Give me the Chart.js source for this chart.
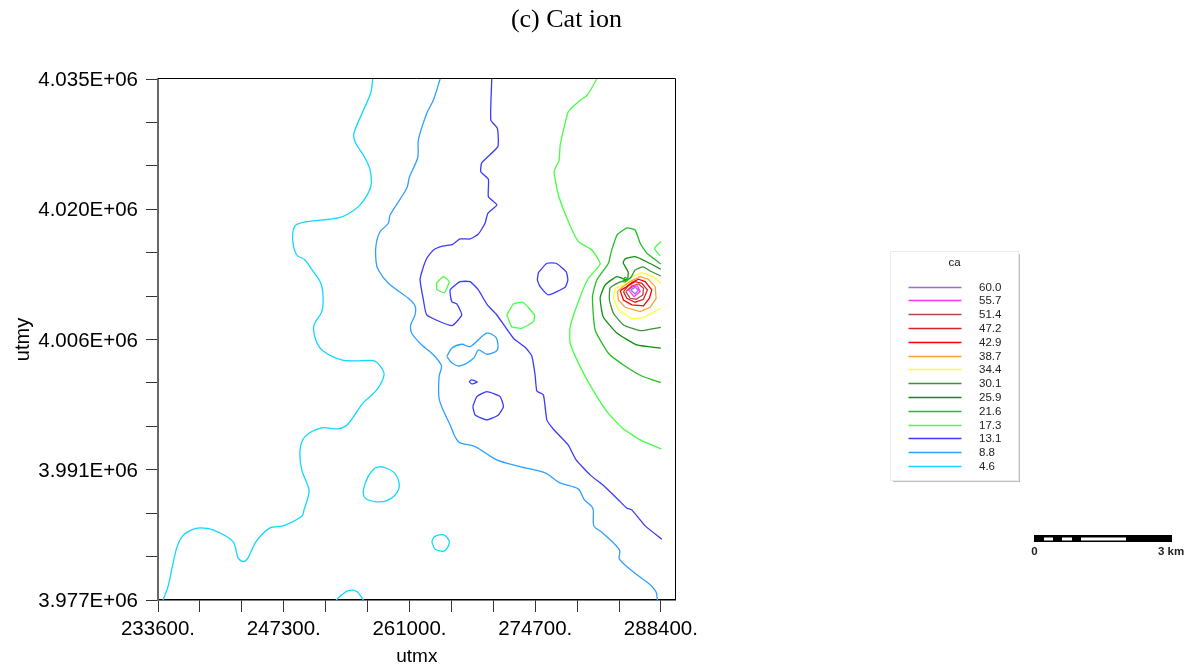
<!DOCTYPE html>
<html>
<head>
<meta charset="utf-8">
<title>Cat ion</title>
<script src="https://cdn.jsdelivr.net/npm/chart.js@4/dist/chart.umd.min.js"></script>
<style>
  html, body { margin: 0; background: #fff; }
  canvas { display: block; }
</style>
</head>
<body>
<canvas id="contourChart" width="1195" height="671"></canvas>
<script>
// axis ticks, every third one carries a label
const xTickValues = [233600, 238167, 242733, 247300, 251867, 256433, 261000, 265567, 270133, 274700, 279267, 283833, 288400]
const xTickLabels = { 233600: '233600.', 247300: '247300.', 261000: '261000.', 274700: '274700.', 288400: '288400.' }
const yTickValues = [3977000, 3981833, 3986667, 3991500, 3996333, 4001167, 4006000, 4010833, 4015667, 4020500, 4025333, 4030167, 4035000]
const yTickLabels = { 3977000: '3.977E+06', 3991500: '3.991E+06', 4006000: '4.006E+06', 4020500: '4.020E+06', 4035000: '4.035E+06' }

// contour levels, top to bottom as in the legend
const levels = ['60.0', '55.7', '51.4', '47.2', '42.9', '38.7', '34.4', '30.1', '25.9', '21.6', '17.3', '13.1', '8.8', '4.6']
const levelColors = ['#9a6fd0', '#ff33ff', '#b04a4a', '#e02020', '#ff0000', '#ffa030', '#ffff33', '#3f8f3f', '#0f8f0f', '#22c022', '#44ff44', '#3a3aff', '#2fa0ff', '#10d8ff']

// contour pieces as [utmx, utmy]
const c46Main = [[257000,4035000],[256780,4033440],[255910,4031360],[254960,4028990],[255070,4028020],[256160,4026210],[256710,4024870],[256780,4022980],[255620,4020980],[254310,4019970],[253220,4019530],[251590,4019310],[249620,4019080],[248530,4018640],[248280,4017080],[248720,4015410],[249620,4014860],[250390,4013740],[251330,4012300],[251590,4010740],[251440,4009070],[250600,4007620],[250790,4005950],[251590,4004730],[253620,4003720],[255070,4003610],[257040,4003650],[257800,4003060],[258230,4002060],[257440,4000390],[255950,3998940],[254310,3996600],[253220,3996050],[251440,3996160],[249620,3995190],[249080,3993710],[249260,3991480],[250060,3989180],[249510,3987030],[249300,3986360],[247230,3985250],[245810,3985030],[244280,3983500],[243410,3981690],[242870,3981270],[242320,3981690],[241780,3983500],[239600,3984800],[238180,3985030],[237270,3984800],[236290,3984140],[235640,3982800],[235090,3980350],[234690,3978490],[234150,3977000]]
const c46Loop = [[257980,3991850],[259220,3991290],[259870,3990030],[259620,3988920],[258530,3988060],[257250,3987950],[256160,3988370],[255980,3989260],[256490,3990740],[257250,3991700],[257980,3991850]]
const c46Small = [[263430,3983500],[263720,3984060],[264770,3984250],[265350,3983430],[264810,3982470],[263790,3982660],[263430,3983500]]
const c46Bottom = [[253000,3977000],[253620,3977570],[254340,3978050],[255260,3977940],[255980,3977000]]

const c88Main = [[264340,4035000],[263610,4032660],[262890,4031180],[261970,4028210],[261910,4026290],[260990,4024060],[260710,4022830],[258890,4019860],[258700,4018940],[257800,4018000],[257360,4016520],[257360,4014670],[257610,4013740],[258700,4012260],[260880,4010590],[261610,4009740],[261610,4008730],[261140,4007620],[261250,4006700],[262340,4005390],[263430,4004470],[264480,4003090],[264230,4001870],[264260,3999270],[265430,3996490],[266330,3994630],[268150,3994080],[270520,3992600],[273060,3991850],[275780,3991150],[277420,3990030],[279380,3989370],[280070,3988140],[280980,3987220],[281090,3985250],[281960,3984550],[283880,3982580],[283880,3981540],[285780,3979800],[287040,3978870],[287850,3977940],[288020,3977000]]
const c88Loop = [[265070,4004090],[265610,4005030],[266700,4005470],[267610,4005210],[269430,4006700],[270440,4006210],[270580,4004840],[269490,4004360],[268510,4004840],[268040,4003980],[266520,4003060],[265610,4003420],[265070,4004090]]

const c131Main = [[269970,4035000],[269860,4030440],[270580,4029510],[270630,4027470],[268880,4025680],[268770,4024680],[269600,4023840],[269600,4021900],[270520,4020980],[269540,4020050],[269240,4018940],[268510,4017750],[267610,4017190],[266520,4017190],[265720,4016600],[264700,4016410],[263610,4015970],[262890,4015040],[262410,4013740],[262160,4012630],[262520,4010400],[262890,4008730],[265610,4007540],[266700,4008730],[266160,4009960],[265610,4010210],[265430,4011520],[266520,4012440],[267610,4012440],[268510,4011520],[269490,4009850],[270520,4008730],[272330,4006140],[273600,4005140],[274330,4004170],[274690,4002060],[274880,4000270],[275600,3999830],[275970,3997050],[276690,3996010],[278290,3994260],[279160,3992600],[280690,3990930],[282320,3989590],[283770,3988140],[284690,3987220],[285230,3987030],[286680,3985250],[288500,3983770]]
const c131LoopEast = [[275050,4013440],[275970,4014490],[276980,4014490],[278070,4013550],[278260,4012630],[277960,4011820],[276140,4010960],[275240,4011880],[274940,4012630],[275050,4013440]]
const c131LoopSouth = [[267900,3998530],[268340,3999640],[269430,4000200],[270880,3999640],[271240,3998530],[270690,3997600],[269430,3997050],[268150,3997600],[267900,3998530]]
const c131Tiny = [[267500,4001310],[267790,4001500],[268400,4001280],[267790,4001050],[267500,4001310]]

const c173Main = [[281420,4035000],[280390,4033220],[279410,4032470],[278320,4031360],[277960,4030070],[277420,4027650],[277310,4025980],[276760,4024680],[277230,4022090],[278320,4019120],[279410,4016890],[280870,4015970],[281780,4014410],[280500,4012820],[279600,4010770],[278510,4007430],[278510,4005580],[279600,4002980],[280870,4000580],[282540,3997940],[284180,3996160],[286140,3994820],[288430,3993820]]
const c173LoopWest = [[263980,4012330],[264700,4013000],[265320,4012440],[264810,4011210],[263980,4011590],[263980,4012330]]
const c173LoopMid = [[271610,4008730],[272330,4009960],[273350,4010150],[274620,4008730],[274510,4007990],[273240,4007250],[272150,4007430],[271610,4008730]]
const c173Edge = [[288390,4016890],[287700,4016160],[288320,4015300]]

const c216Main = [[288390,4014410],[286870,4015600],[286140,4016710],[285590,4018190],[284720,4018420],[283630,4017640],[282980,4015750],[282680,4014490],[281420,4012630],[280940,4010770],[281230,4007060],[282680,4004470],[284320,4003170],[286320,4001940],[288390,4001200]]
const c216Spur = [[284230,4012410],[284500,4012910],[284830,4012680],[284500,4012410],[284230,4012410]]
const c259Main = [[288390,4013820],[286900,4014630],[285590,4015220],[284500,4014970],[284290,4014520],[284830,4013520],[284720,4012630],[283600,4013000],[282320,4012070],[281780,4010630],[282110,4008540],[283600,4006730],[285780,4005390],[288390,4005030]]
const c301Main = [[288390,4013070],[287230,4013630],[286470,4014080],[285590,4013740],[285160,4012960],[284720,4012630],[283960,4012410],[282870,4011740],[282790,4010400],[283230,4008920],[284320,4007620],[286140,4006990],[288390,4007360]]
const c344Main = [[288390,4012260],[287590,4013000],[286320,4013440],[285230,4013000],[284320,4012070],[283410,4011700],[283230,4010590],[283770,4009290],[285230,4008290],[286500,4008430],[288390,4009480]]
const c387Loop = [[283660,4011330],[283770,4010400],[284500,4009590],[286140,4009100],[287230,4009590],[287880,4010590],[287770,4011880],[287040,4012710],[286140,4013000],[285230,4012550],[284320,4011960],[283660,4011330]]
const c429Loop = [[283960,4011440],[284320,4010400],[285230,4009850],[286500,4009740],[287150,4010590],[287410,4011520],[286680,4012440],[285950,4012710],[285230,4012330],[284500,4011770],[283960,4011440]]
const c472Loop = [[284320,4011330],[284690,4010590],[285590,4010150],[286500,4010480],[286930,4011520],[286320,4012260],[285590,4012440],[284860,4011990],[284320,4011330]]
const c514Loop = [[284580,4011330],[285050,4010590],[285700,4010480],[286430,4010960],[286500,4011700],[285950,4012180],[285230,4011960],[284580,4011330]]
const c557Loop = [[284860,4011520],[285480,4010770],[286140,4011330],[285840,4011960],[285340,4011880],[284860,4011520]]
const c600Loop = [[285120,4011520],[285590,4011070],[285950,4011520],[285590,4011820],[285120,4011520]]

const contours = [
  ['4.6', c46Main], ['4.6', c46Loop], ['4.6', c46Small], ['4.6', c46Bottom],
  ['8.8', c88Main], ['8.8', c88Loop],
  ['13.1', c131Main], ['13.1', c131LoopEast], ['13.1', c131LoopSouth], ['13.1', c131Tiny],
  ['17.3', c173Main], ['17.3', c173LoopWest], ['17.3', c173LoopMid], ['17.3', c173Edge],
  ['21.6', c216Main], ['21.6', c216Spur],
  ['25.9', c259Main], ['30.1', c301Main], ['34.4', c344Main], ['38.7', c387Loop],
  ['42.9', c429Loop], ['47.2', c472Loop], ['51.4', c514Loop], ['55.7', c557Loop], ['60.0', c600Loop]
]

const sansFont = '"Liberation Sans", Arial, sans-serif'

function smoothing(level) {
  const value = Number(level)
  if (value < 10) return 0.3
  return value < 31 ? 0.15 : 0
}

// plot frame, legend box, scale bar and page title sit outside the axes
const sheetExtras = {
  id: 'sheetExtras',
  beforeDatasetsDraw(chart) {
    const ctx = chart.ctx
    const area = chart.chartArea
    ctx.save()
    ctx.strokeStyle = '#000'
    ctx.lineWidth = 1
    ctx.beginPath()
    ctx.moveTo(area.left, Math.round(area.top) - 0.5)
    ctx.lineTo(Math.round(area.right) - 0.5, Math.round(area.top) - 0.5)
    ctx.lineTo(Math.round(area.right) - 0.5, area.bottom)
    ctx.stroke()
    ctx.restore()
  },
  afterDraw(chart) {
    const ctx = chart.ctx
    ctx.save()

    ctx.fillStyle = '#000'
    ctx.font = '26px "Liberation Serif", "Times New Roman", serif'
    ctx.textAlign = 'center'
    ctx.textBaseline = 'alphabetic'
    ctx.fillText('(c) Cat ion', 566.5, 27)

    // legend box
    ctx.fillStyle = '#bdbdbd'
    ctx.fillRect(893, 254, 127, 228)
    ctx.fillStyle = '#fff'
    ctx.strokeStyle = '#ececec'
    ctx.lineWidth = 1
    ctx.fillRect(891, 252, 127, 228)
    ctx.strokeRect(890.5, 251.5, 128, 229)

    ctx.fillStyle = '#111'
    ctx.font = '11.5px ' + sansFont
    ctx.textAlign = 'left'
    ctx.textBaseline = 'middle'
    ctx.fillText('ca', 948.5, 262.5)
    ctx.lineWidth = 1.5
    levels.forEach((level, i) => {
      const y = 286.5 + i * 13.8
      ctx.strokeStyle = levelColors[i]
      ctx.beginPath()
      ctx.moveTo(908.5, Math.round(y) + 0.5)
      ctx.lineTo(961.5, Math.round(y) + 0.5)
      ctx.stroke()
      ctx.fillStyle = '#222'
      ctx.fillText(level, 979, y + 1)
    })

    // scale bar
    ctx.fillStyle = '#000'
    ctx.fillRect(1034, 535, 138, 7)
    ctx.fillStyle = '#fff'
    ctx.fillRect(1044, 537.5, 9, 3)
    ctx.fillRect(1062, 537.5, 10, 3)
    ctx.fillRect(1081, 537.5, 45, 3)
    ctx.fillStyle = '#222'
    ctx.font = 'bold 11.5px ' + sansFont
    ctx.textAlign = 'center'
    ctx.fillText('0', 1034.5, 552)
    ctx.fillText('3 km', 1171, 552)

    ctx.restore()
  }
}

new Chart(document.getElementById('contourChart'), {
  type: 'scatter',
  data: {
    datasets: contours.map(([level, points]) => ({
      label: level,
      data: points.map(([x, y]) => ({ x, y })),
      showLine: true,
      borderColor: levelColors[levels.indexOf(level)],
      borderWidth: 1.3,
      pointRadius: 0,
      tension: smoothing(level),
      fill: false
    }))
  },
  options: {
    responsive: false,
    animation: false,
    layout: { padding: { left: 0, right: 519.4, top: 79, bottom: 0 } },
    plugins: {
      legend: { display: false },
      tooltip: { enabled: false }
    },
    scales: {
      x: {
        type: 'linear',
        min: 233600,
        max: 290000,
        afterFit(scale) { scale.height = 71 },
        afterBuildTicks(scale) { scale.ticks = xTickValues.map(value => ({ value })) },
        title: { display: true, text: 'utmx', color: '#000', font: { family: sansFont, size: 19 }, padding: { top: 0, bottom: 3 } },
        border: { color: '#000', width: 1.5 },
        grid: { drawOnChartArea: false, tickLength: 12, tickColor: '#333', tickWidth: 1 },
        ticks: {
          color: '#000',
          padding: 5,
          autoSkip: false,
          maxRotation: 0,
          font: { family: sansFont, size: 20.5 },
          callback: value => xTickLabels[value] || ''
        }
      },
      y: {
        type: 'linear',
        min: 3977000,
        max: 4035000,
        afterFit(scale) { scale.width = 158 },
        afterBuildTicks(scale) { scale.ticks = yTickValues.map(value => ({ value })) },
        title: { display: true, text: 'utmy', color: '#000', font: { family: sansFont, size: 20 }, padding: { top: 11, bottom: 0 } },
        border: { color: '#666', width: 2 },
        grid: { drawOnChartArea: false, tickLength: 12, tickColor: '#333', tickWidth: 1 },
        ticks: {
          color: '#000',
          padding: 8,
          labelOffset: 1.5,
          autoSkip: false,
          font: { family: sansFont, size: 20.5 },
          callback: value => yTickLabels[value] || ''
        }
      }
    }
  },
  plugins: [sheetExtras]
})
</script>
</body>
</html>
